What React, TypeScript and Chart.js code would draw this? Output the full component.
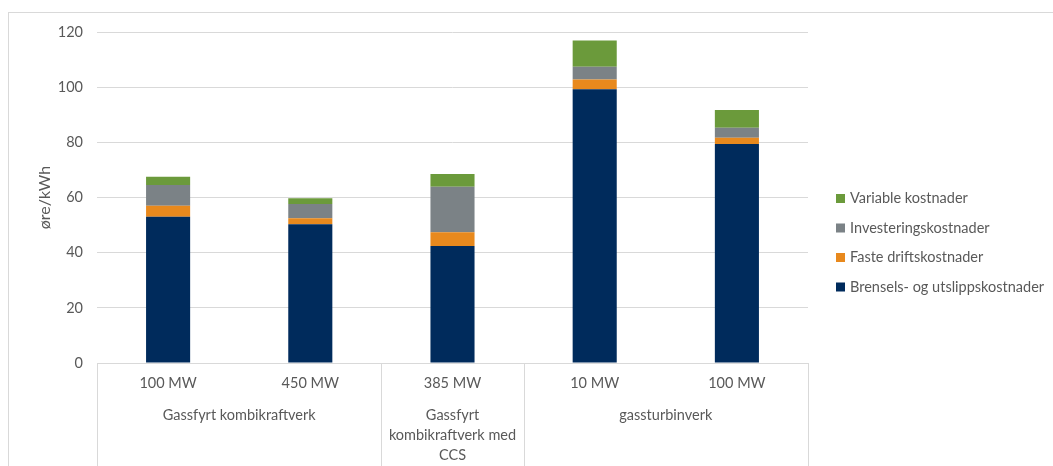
import React, { useEffect, useRef } from "react";
import { Chart, registerables } from "chart.js";

Chart.register(...registerables);

const categories = ["100 MW", "450 MW", "385 MW", "10 MW", "100 MW"];
const groupLabels = [["Gassfyrt kombikraftverk"], ["Gassfyrt", "kombikraftverk med", "CCS"], ["gassturbinverk"]];
const groupSizes = [2, 1, 2];

const brensel = [53, 50.3, 42.4, 99.2, 79.4];
const faste = [4, 2.2, 5, 3.6, 2.3];
const investering = [7.5, 5.1, 16.5, 4.6, 3.6];
const variable = [3, 2.1, 4.6, 9.5, 6.4];

const seriesNames = ["Brensels- og utslippskostnader", "Faste driftskostnader", "Investeringskostnader", "Variable kostnader"];
const seriesColors = ["#002B5C", "#E8891D", "#7B8286", "#6B9A3B"];

const yTicksMax = 120;
const yStep = 20;
const yTitle = "øre/kWh";

const TEXT = "#595959";
const LINE = "#d9d9d9";
const FONT = "Lato";
const FS = 14.5;

const groupPlugin = {
  id: "groupAxis",
  afterDraw(chart: any) {
    const ctx = chart.ctx;
    const x = chart.scales.x;
    const area = chart.chartArea;
    const n = categories.length;
    const px = (i: number) => x.getPixelForValue(i);
    const half = n > 1 ? (px(1) - px(0)) / 2 : 50;
    ctx.save();
    ctx.strokeStyle = LINE;
    ctx.lineWidth = 1;
    const bounds: number[] = [px(0) - half];
    let idx = 0;
    groupSizes.forEach((s) => {
      idx += s;
      bounds.push(px(idx - 1) + half);
    });
    bounds.forEach((b) => {
      const xx = Math.round(b) + 0.5;
      ctx.beginPath();
      ctx.moveTo(xx, area.bottom);
      ctx.lineTo(xx, chart.height);
      ctx.stroke();
    });
    ctx.fillStyle = TEXT;
    ctx.font = `${FS}px ${FONT}`;
    ctx.textAlign = "center";
    ctx.textBaseline = "middle";
    for (let g = 0; g < groupSizes.length; g++) {
      const cx = (bounds[g] + bounds[g + 1]) / 2;
      groupLabels[g].forEach((line, li) => {
        ctx.fillText(line, cx, area.bottom + 52 + li * 20);
      });
    }
    const ds = chart.data.datasets;
    ctx.textAlign = "left";
    const lx = area.right + 28;
    let ly = area.top + 166.5;
    for (let i = ds.length - 1; i >= 0; i--) {
      ctx.fillStyle = ds[i].backgroundColor;
      ctx.fillRect(lx, ly - 4.5, 9, 9);
      ctx.fillStyle = TEXT;
      ctx.fillText(ds[i].label, lx + 14, ly);
      ly += 29.5;
    }
    ctx.restore();
  },
};

export default function App() {
  const ref = useRef<HTMLCanvasElement>(null);
  useEffect(() => {
    document.body.style.margin = "0";
    document.body.style.overflow = "hidden";
    const seriesData = [brensel, faste, investering, variable];
    const chart = new Chart(ref.current!, {
      type: "bar",
      data: {
        labels: categories,
        datasets: seriesData.map((d, i) => ({
          label: seriesNames[i],
          data: d,
          backgroundColor: seriesColors[i],
          borderWidth: 0,
          barPercentage: 1,
          categoryPercentage: 0.31,
        })),
      },
      options: {
        animation: false,
        responsive: false,
        maintainAspectRatio: false,
        layout: { padding: { left: 0, top: 32, right: 245, bottom: 0 } },
        plugins: { legend: { display: false }, tooltip: { enabled: false } },
        scales: {
          x: {
            stacked: true,
            grid: { display: false, drawTicks: false },
            border: { display: true, color: LINE },
            ticks: { color: TEXT, font: { family: FONT, size: FS }, padding: 12, maxRotation: 0, autoSkip: false },
            afterFit: (s: any) => {
              s.height = 103;
            },
          },
          y: {
            stacked: true,
            min: 0,
            max: yTicksMax,
            ticks: { stepSize: yStep, padding: 14, color: TEXT, font: { family: FONT, size: FS } },
            grid: { color: LINE, drawTicks: false },
            border: { display: false },
            title: { display: true, text: yTitle, color: TEXT, font: { family: FONT, size: 16 }, padding: { top: 35.4, bottom: 0 } },
            afterFit: (s: any) => {
              s.width = 97;
            },
          },
        },
      },
      plugins: [groupPlugin],
    });
    return () => chart.destroy();
  }, []);
  return (
    <div style={{ position: "relative", width: 1053, height: 466, overflow: "hidden", background: "#fff" }}>
      <canvas ref={ref} width={1053} height={466} style={{ position: "absolute", left: 0, top: 0 }} />
      <div
        style={{
          position: "absolute",
          left: 8,
          top: 12,
          width: 1100,
          height: 500,
          border: `1px solid ${LINE}`,
          pointerEvents: "none",
        }}
      />
    </div>
  );
}
